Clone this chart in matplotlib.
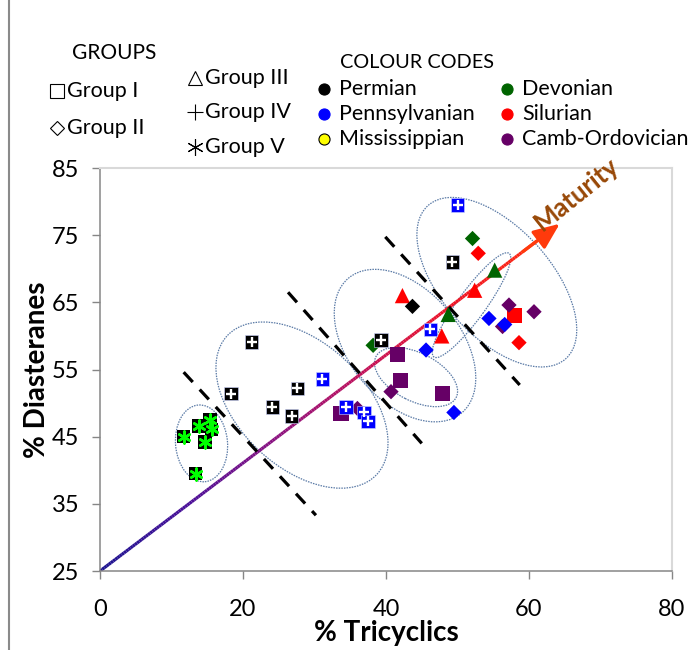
import numpy as np
import matplotlib
matplotlib.use("Agg")
import matplotlib.pyplot as plt
from matplotlib.collections import LineCollection
from matplotlib.colors import LinearSegmentedColormap
from matplotlib.lines import Line2D
from matplotlib.patches import Ellipse
from matplotlib.transforms import Affine2D, ScaledTranslation

plt.rcParams["font.family"] = ["Lato", "DejaVu Sans"]

# ---- colour codes (geological period) ----
periods = ["Permian", "Pennsylvanian", "Mississippian",
           "Devonian", "Silurian", "Camb-Ordovician"]
period_colors = ["#000000", "#0000ff", "#ffff00",
                 "#006400", "#ff0000", "#660066"]

# ---- Group I (squares) ----
g1_tri = [33.7, 41.6, 42.0, 47.9, 58.0]
g1_dia = [48.4, 57.2, 53.4, 51.4, 63.0]
g1_age = ["Camb-Ordovician", "Camb-Ordovician", "Camb-Ordovician",
          "Camb-Ordovician", "Silurian"]

# ---- Group II (diamonds) ----
g2_tri = [38.2, 40.7, 36.0, 43.7, 45.6, 49.5, 54.4, 52.9, 52.1,
          57.2, 60.7, 56.3, 56.6, 58.6]
g2_dia = [58.6, 51.7, 49.2, 64.4, 57.9, 48.6, 62.6, 72.3, 74.5,
          64.6, 63.6, 61.4, 61.7, 59.0]
g2_age = ["Devonian", "Camb-Ordovician", "Camb-Ordovician", "Permian",
          "Pennsylvanian", "Pennsylvanian", "Pennsylvanian", "Silurian",
          "Devonian", "Camb-Ordovician", "Camb-Ordovician",
          "Camb-Ordovician", "Pennsylvanian", "Silurian"]

# ---- Group III (triangles) ----
g3_tri = [42.3, 48.7, 47.8, 52.4, 55.2]
g3_dia = [66.0, 63.2, 60.0, 66.8, 69.8]
g3_age = ["Silurian", "Devonian", "Silurian", "Silurian", "Devonian"]

# ---- Group IV (plus) ----
g4_tri = [21.2, 18.3, 24.1, 27.6, 26.8, 39.3, 49.3,
          31.1, 34.4, 36.9, 37.5, 46.2, 50.0]
g4_dia = [59.1, 51.4, 49.4, 52.2, 48.1, 59.4, 71.0,
          53.6, 49.4, 48.6, 47.3, 61.0, 79.5]
g4_age = ["Permian"] * 7 + ["Pennsylvanian"] * 6

# ---- Group V (asterisk) ----
g5_tri = [11.7, 13.8, 15.4, 15.6, 14.7, 13.4]
g5_dia = [45.0, 46.6, 47.5, 46.1, 44.2, 39.5]

# ---- maturity trend ----
maturity_start = (0.0, 25.0)
maturity_end = (64.3, 76.7)

# ---- dashed group boundaries ----
boundaries = [((11.7, 54.6), (30.2, 33.3)),
              ((26.3, 66.5), (45.0, 44.0)),
              ((39.9, 74.75), (58.7, 52.7))]

# ---- cluster outlines: centre (data), width/height (px), angle ----
clusters = [((14.2, 44.0), 52, 77, 5),
            ((28.25, 49.7), 204, 125, -42.8),
            ((42.66, 58.56), 176, 111, -50),
            ((44.2, 53.87), 90, 48, -27),
            ((55.5, 68.0), 206, 109, -48),
            ((51.96, 64.58), 128, 28, 54)]

color_of = dict(zip(periods, period_colors))

W, H = 692, 650
fig = plt.figure(figsize=(W / 100, H / 100), dpi=100)
ax = fig.add_axes([100 / W, 1 - 571 / H, 572 / W, 403 / H])

ax.set_xlim(0, 80)
ax.set_ylim(25, 85)
ax.set_xticks([0, 20, 40, 60, 80])
ax.set_yticks([25, 35, 45, 55, 65, 75, 85])
ax.tick_params(direction="out", length=5.8, width=1.0, color="#868686",
               labelsize=17, labelcolor="black")
ax.tick_params(axis="x", pad=14)
ax.tick_params(axis="y", pad=9)
for s in ("left", "bottom"):
    ax.spines[s].set_color("#868686")
    ax.spines[s].set_linewidth(1.1)
for s in ("top", "right"):
    ax.spines[s].set_color("#d9d9d9")
    ax.spines[s].set_linewidth(1.5)
ax.set_xlabel("% Tricyclics", fontsize=20, fontweight="bold", labelpad=0)
ax.set_ylabel("% Diasteranes", fontsize=20, fontweight="bold", labelpad=1)

# cluster outlines drawn in pixel units around data centres
for (cx, cy), w, h, ang in clusters:
    tr = Affine2D().scale(fig.dpi / 100) + ScaledTranslation(cx, cy, ax.transData)
    ax.add_patch(Ellipse((0, 0), w, h, angle=ang, transform=tr, fill=False,
                         edgecolor="#5a7aa6", linewidth=0.9,
                         linestyle=(0, (1.2, 0.9)), zorder=2))

# maturity arrow with colour gradient
cmap = LinearSegmentedColormap.from_list(
    "maturity", ["#1c1490", "#4a0f98", "#8a1180", "#c0105a", "#ee1226", "#ff2a10"])
n = 200
t = np.linspace(0, 0.95, n + 1)
xs = maturity_start[0] + t * (maturity_end[0] - maturity_start[0])
ys = maturity_start[1] + t * (maturity_end[1] - maturity_start[1])
segs = np.stack([np.column_stack([xs[:-1], ys[:-1]]),
                 np.column_stack([xs[1:], ys[1:]])], axis=1)
lc = LineCollection(segs, colors=cmap(np.linspace(0, 1, n)), linewidth=2.3,
                    capstyle="butt", zorder=2.2)
ax.add_collection(lc)
ax.annotate("", xy=maturity_end,
            xytext=(maturity_start[0] + 0.92 * (maturity_end[0] - maturity_start[0]),
                    maturity_start[1] + 0.92 * (maturity_end[1] - maturity_start[1])),
            arrowprops=dict(arrowstyle="-|>,head_length=1.0,head_width=0.42",
                            mutation_scale=16, color="#ff3a0c", lw=2.3,
                            shrinkA=0, shrinkB=0),
            zorder=2.3)
ax.text(66.6, 81.1, "Maturity", rotation=38.8, color="#984807", fontsize=18.5,
        fontweight="bold", ha="center", va="center", rotation_mode="anchor")

# dashed boundaries
for (x0, y0), (x1, y1) in boundaries:
    ax.plot([x0, x1], [y0, y1], color="black", linewidth=2.3,
            linestyle=(0, (4.2, 3.2)), zorder=2.4)

# Group I
ax.scatter(g1_tri, g1_dia, marker="s", s=11.0 ** 2,
           c=[color_of[a] for a in g1_age], edgecolors="none", zorder=3)
# Group II
ax.scatter(g2_tri, g2_dia, marker="D", s=7.8 ** 2,
           c=[color_of[a] for a in g2_age], edgecolors="none", zorder=4)
# Group III
ax.scatter(g3_tri, g3_dia, marker="^", s=11.0 ** 2,
           c=[color_of[a] for a in g3_age], edgecolors="none", zorder=3.5)
# Group IV
ax.scatter(g4_tri, g4_dia, marker="s", s=9.6 ** 2,
           c=[color_of[a] for a in g4_age], edgecolors="#cfd6ff",
           linewidths=0.4, zorder=5)
ax.scatter(g4_tri, g4_dia, marker="+", s=7.0 ** 2, c="white",
           linewidths=1.7, zorder=5.1)
# Group V
ax.scatter(g5_tri, g5_dia, marker="s", s=9.6 ** 2, c="black",
           edgecolors="none", zorder=6)
ax.scatter(g5_tri, g5_dia, marker=(6, 2, 0), s=8.6 ** 2, c="#00ff00",
           linewidths=1.8, zorder=6.1)


def fp(px, py):
    return px / W, 1 - py / H


# frame line at the left of the chart area
fig.add_artist(Line2D([9 / W, 9 / W], [0, 1], transform=fig.transFigure,
                      color="#8a8a8a", linewidth=1.5))

# legend: groups
leg_fs = 15.5
fig.text(*fp(72, 53), "GROUPS", fontsize=15, va="center", ha="left")
group_rows = [(57, 91, "s", "Group I"), (57, 128, "D", "Group II"),
              (195, 78, "^", "Group III"), (195, 112, "+", "Group IV"),
              (195, 147, (6, 2, 0), "Group V")]
for px, py, mk, label in group_rows:
    ms = {"s": 10, "D": 7.5, "^": 10, "+": 12, (6, 2, 0): 12}[mk]
    fig.add_artist(Line2D([px / W], [1 - py / H], transform=fig.transFigure,
                          marker=mk, markersize=ms, markerfacecolor="none",
                          markeredgecolor="black", markeredgewidth=0.8,
                          linestyle="none"))
    fig.text(*fp(px + 10, py), label, fontsize=leg_fs, va="center", ha="left")

# legend: colour codes
fig.text(*fp(340, 62), "COLOUR CODES", fontsize=14.3, va="center", ha="left")
code_pos = [(324, 89), (324, 114), (324, 139), (507, 89), (507, 114), (507, 139)]
for (px, py), name, col in zip(code_pos, periods, period_colors):
    fig.add_artist(Line2D([px / W], [1 - py / H], transform=fig.transFigure,
                          marker="o", markersize=8, markerfacecolor=col,
                          markeredgecolor="black" if name == "Mississippian" else col,
                          markeredgewidth=0.8, linestyle="none"))
    fig.text(*fp(px + 15, py), name, fontsize=leg_fs, va="center", ha="left")

fig.savefig("out.png", dpi=100)
